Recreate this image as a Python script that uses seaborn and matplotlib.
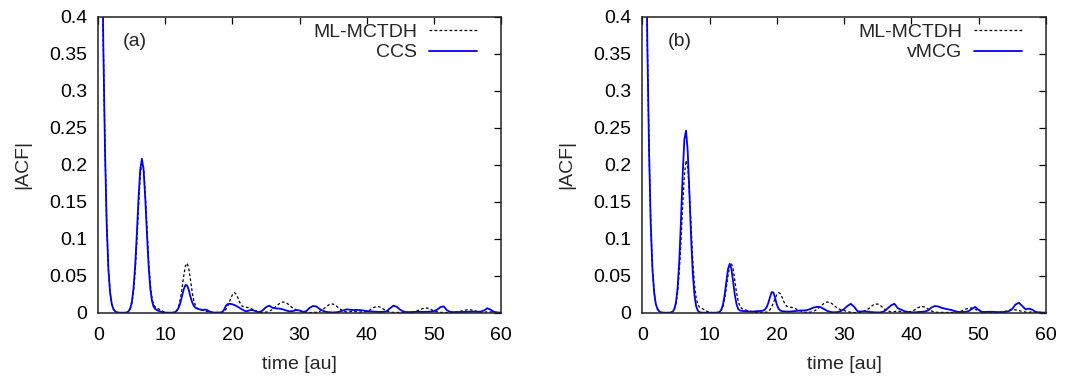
import numpy as np
import pandas as pd
import matplotlib
matplotlib.use("Agg")
import matplotlib.pyplot as plt
from matplotlib.ticker import FuncFormatter
import seaborn as sns

# ---------------- data ----------------
# sampling grid: 0..24 every 0.25 au, then 24.5..60 every 0.5 au
time_fine = np.arange(0, 24.001, 0.25)      # 97 points
time_coarse = np.arange(24.5, 60.001, 0.5)  # 72 points
time = np.concatenate([time_fine, time_coarse])

ml_mctdh = [
    1.0, 0.80, 0.55, 0.36, 0.22, 0.12, 0.06, 0.028,
    0.012, 0.005, 0.002, 0.0005, 0.0001, 0, 0, 0,
    0, 0.0002, 0.0014, 0.0045, 0.012, 0.028, 0.056, 0.0967,
    0.1441, 0.1852, 0.2055, 0.1965, 0.1622, 0.1155, 0.0709, 0.039,
    0.020, 0.011, 0.0075, 0.006, 0.005, 0.004, 0.0025, 0.0012,
    0.0005, 0.0002, 0, 0, 0, 0.0003, 0.0012, 0.0037,
    0.0091, 0.0192, 0.034, 0.0506, 0.0634, 0.0668, 0.0592, 0.0441,
    0.0276, 0.016, 0.009, 0.006, 0.0045, 0.0038, 0.0032, 0.0026,
    0.002, 0.0015, 0.001, 0.0007, 0.0005, 0.0003, 0.0002, 0.0003,
    0.0004, 0.0005, 0.0007, 0.0019, 0.0042, 0.008, 0.0133, 0.0193,
    0.0244, 0.027, 0.0258, 0.0216, 0.0157, 0.011, 0.0085, 0.008,
    0.0075, 0.007, 0.0065, 0.0055, 0.0045, 0.0035, 0.0025, 0.0015,
    0.0008,
    0.0004, 0.0007, 0.002, 0.0046, 0.0085, 0.0124, 0.0145, 0.0135, 0.0101, 0.0061,
    0.004, 0.003, 0.0015, 0.0005, 0.0002, 0.0002, 0.0005, 0.0018, 0.0044, 0.0082,
    0.0114, 0.0117, 0.009, 0.0051, 0.0022, 0.001, 0.0015, 0.002, 0.0015, 0.001,
    0.001, 0.0017, 0.0037, 0.0067, 0.0085, 0.0077, 0.0049, 0.0022, 0.0008, 0.0004,
    0.0004, 0.0003, 0.0002, 0.0002, 0.0003, 0.0009, 0.0023, 0.0043, 0.006, 0.0062,
    0.0047, 0.0027, 0.0011, 0.0004, 0.0002, 0.0001, 0.0001, 0.0003, 0.0009, 0.0019,
    0.0031, 0.0039, 0.0038, 0.0029, 0.0017, 0.0008, 0.0005, 0.0012, 0.001, 0.0005,
    0.0002, 0.0001,
]

ccs = [
    1.0, 0.80, 0.55, 0.36, 0.22, 0.12, 0.06, 0.028,
    0.012, 0.005, 0.002, 0.0005, 0.0001, 0, 0, 0,
    0, 0.0003, 0.0018, 0.0056, 0.0146, 0.0328, 0.0638, 0.107,
    0.1548, 0.1932, 0.208, 0.1932, 0.1548, 0.107, 0.0638, 0.0328,
    0.016, 0.008, 0.005, 0.0035, 0.0025, 0.0015, 0.0008, 0.0003,
    0.0001, 0, 0, 0, 0, 0.0003, 0.0011, 0.0031,
    0.0071, 0.014, 0.0231, 0.0321, 0.0375, 0.0368, 0.0304, 0.0212,
    0.014, 0.009, 0.0065, 0.0055, 0.0048, 0.0042, 0.0038, 0.004,
    0.0042, 0.0035, 0.002, 0.001, 0.0004, 0.0001, 0.0001, 0.0001,
    0.0001, 0.0002, 0.001, 0.004, 0.009, 0.0115, 0.012, 0.0118,
    0.0113, 0.0105, 0.0095, 0.0082, 0.007, 0.0055, 0.004, 0.0028,
    0.002, 0.0022, 0.003, 0.0036, 0.0035, 0.0028, 0.0018, 0.001,
    0.0008,
    0.003, 0.0075, 0.0095, 0.0065, 0.0058, 0.0055, 0.0045, 0.003, 0.0018, 0.0022,
    0.0035, 0.003, 0.001, 0.002, 0.0065, 0.009, 0.0085, 0.005, 0.0025, 0.001,
    0.0005, 0.0003, 0.0005, 0.0015, 0.003, 0.0045, 0.004, 0.0035, 0.0038, 0.0035,
    0.003, 0.0022, 0.0018, 0.0015, 0.0012, 0.001, 0.0012, 0.002, 0.006, 0.0095,
    0.008, 0.004, 0.0015, 0.0008, 0.0008, 0.001, 0.0012, 0.0012, 0.001, 0.0012,
    0.0015, 0.002, 0.004, 0.0075, 0.0085, 0.003, 0.001, 0.0008, 0.0008, 0.001,
    0.001, 0.0012, 0.0015, 0.0015, 0.0012, 0.0015, 0.003, 0.006, 0.004, 0.001,
    0.0003, 0.0001,
]

vmcg = [
    1.0, 0.80, 0.55, 0.36, 0.22, 0.12, 0.06, 0.028,
    0.012, 0.005, 0.002, 0.0005, 0.0001, 0, 0, 0,
    0, 0.0003, 0.0013, 0.0045, 0.0135, 0.0337, 0.0708, 0.1254,
    0.1867, 0.2337, 0.2461, 0.2181, 0.1625, 0.1019, 0.0537, 0.0238,
    0.0089, 0.0028, 0.0007, 0.0002, 0, 0, 0, 0,
    0, 0, 0, 0, 0, 0.0003, 0.0012, 0.0041,
    0.0112, 0.0243, 0.0423, 0.0591, 0.066, 0.0591, 0.0423, 0.0243,
    0.012, 0.005, 0.003, 0.0025, 0.0022, 0.002, 0.0018, 0.0015,
    0.0015, 0.0015, 0.0016, 0.0018, 0.002, 0.0022, 0.0022, 0.0024,
    0.003, 0.0045, 0.0075, 0.0135, 0.0215, 0.028, 0.0272, 0.0198,
    0.011, 0.0055, 0.003, 0.002, 0.0018, 0.0015, 0.0015, 0.0015,
    0.0015, 0.0018, 0.002, 0.0022, 0.0025, 0.0028, 0.003, 0.003,
    0.003,
    0.0035, 0.005, 0.007, 0.0078, 0.0075, 0.005, 0.0025, 0.001, 0.0005, 0.0008,
    0.002, 0.005, 0.009, 0.012, 0.008, 0.002, 0.0015, 0.002, 0.0015, 0.0008,
    0.0005, 0.0003, 0.0005, 0.002, 0.006, 0.010, 0.012, 0.006, 0.004, 0.002,
    0.001, 0.0005, 0.0005, 0.0008, 0.001, 0.0015, 0.003, 0.007, 0.009, 0.0085,
    0.0065, 0.0055, 0.0045, 0.0035, 0.002, 0.001, 0.0008, 0.001, 0.002, 0.005,
    0.0078, 0.004, 0.001, 0.001, 0.0012, 0.0012, 0.001, 0.0008, 0.0008, 0.001,
    0.002, 0.005, 0.011, 0.0135, 0.009, 0.0045, 0.0055, 0.004, 0.001, 0.0003,
    0.0001, 0,
]

panel_labels = ["(a)", "(b)"]
reference_name = "ML-MCTDH"
method_names = ["CCS", "vMCG"]
method_values = [ccs, vmcg]
x_ticks = [0, 10, 20, 30, 40, 50, 60]
y_ticks = [0, 0.05, 0.1, 0.15, 0.2, 0.25, 0.3, 0.35, 0.4]
x_label = "time [au]"
y_label = "|ACF|"

# ---------------- style ----------------
sns.set_style("white")
plt.rcParams["font.family"] = ["Liberation Sans", "DejaVu Sans"]
FS = 14

fig = plt.figure(figsize=(10.79, 3.78), dpi=100)
axes = [fig.add_axes([0.0911, 0.1728, 0.3730, 0.7831]),
        fig.add_axes([0.5953, 0.1728, 0.3739, 0.7831])]

for ax, lab, mname, mvals in zip(axes, panel_labels, method_names, method_values):
    df = pd.DataFrame({"time": time, "ref": ml_mctdh, "method": mvals})
    sns.lineplot(data=df, x="time", y="ref", ax=ax, color="black",
                 linewidth=0.9, linestyle=(0, (2.2, 1.8)), label=reference_name,
                 estimator=None, sort=False)
    sns.lineplot(data=df, x="time", y="method", ax=ax, color="#0000ff",
                 linewidth=1.3, label=mname, estimator=None, sort=False)
    ax.set_xlim(0, 60)
    ax.set_ylim(0, 0.4)
    ax.set_xticks(x_ticks)
    ax.set_yticks(y_ticks)
    ax.yaxis.set_major_formatter(FuncFormatter(lambda v, p: "%g" % v))
    ax.tick_params(direction="in", top=True, right=True, length=5, width=0.9,
                   colors="black", labelsize=FS)
    ax.tick_params(axis="x", pad=10)
    ax.tick_params(axis="y", pad=8)
    for s in ax.spines.values():
        s.set_color("#222222")
        s.set_linewidth(1.1)
    ax.set_xlabel(x_label, fontsize=FS, labelpad=9)
    ax.set_ylabel(y_label, fontsize=FS, labelpad=13)
    ax.text(0.062, 0.915, lab, transform=ax.transAxes, fontsize=FS,
            va="center", ha="left")
    ax.legend(loc="upper right", bbox_to_anchor=(0.942, 0.978),
              frameon=False, markerfirst=False, fontsize=FS,
              handlelength=2.5, handletextpad=0.6, borderpad=0,
              borderaxespad=0, labelspacing=0.15)

fig.savefig("out.png", dpi=100)
